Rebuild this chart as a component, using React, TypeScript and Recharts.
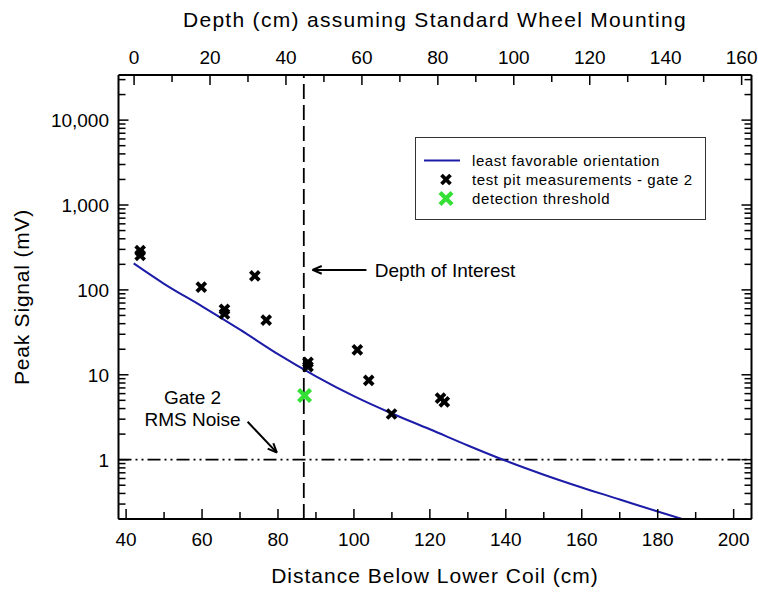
import React from "react";
import { ComposedChart, Line, Scatter, XAxis, YAxis, ReferenceLine, ReferenceDot, Legend } from "recharts";

const FONT = "'Liberation Sans', Arial, sans-serif";
const BLUE = "#1c1ca8", GREEN = "#35e035", INK = "#000";

// least favorable orientation (distance cm -> mV)
const curveDist = [42, 50, 60, 70, 80, 90, 100, 110, 120, 130, 140, 150, 160, 170, 180, 186.4];
const curveMv = [205, 118, 64, 34, 17.5, 9.6, 5.6, 3.5, 2.28, 1.47, 0.97, 0.665, 0.47, 0.34, 0.245, 0.2];

// test pit measurements - gate 2
const pitDist = [43.7, 43.7, 59.8, 65.9, 65.9, 73.9, 76.9, 87.9, 87.9, 100.9, 103.9, 109.9, 122.8, 123.8];
const pitMv = [290, 255, 108, 59, 52, 146, 44, 14, 12.5, 19.7, 8.6, 3.45, 5.3, 4.8];

// detection threshold
const thrDist = [87.0];
const thrMv = [5.7];

const bottomMajor = [40, 60, 80, 100, 120, 140, 160, 180, 200];
const bottomMinor = [50, 70, 90, 110, 130, 150, 170, 190];
const topMajor = [0, 20, 40, 60, 80, 100, 120, 140, 160];
const topMinor = [10, 30, 50, 70, 90, 110, 130, 150];
const yMajor = [1, 10, 100, 1000, 10000];
const yMinor = [
  0.2, 0.3, 0.4, 0.5, 0.6, 0.7, 0.8, 0.9,
  2, 3, 4, 5, 6, 7, 8, 9,
  20, 30, 40, 50, 60, 70, 80, 90,
  200, 300, 400, 500, 600, 700, 800, 900,
  2000, 3000, 4000, 5000, 6000, 7000, 8000, 9000,
  20000, 30000,
];

const DEPTH_OFFSET = 42.1; // depth = distance below coil - offset
const DEPTH_OF_INTEREST = 86.8;
const RMS_NOISE = 1;
const X_DOMAIN = [38, 204.7];
const Y_DOMAIN = [0.2, 34000];

const curve = curveDist.map((d, i) => ({ d, v: curveMv[i] }));
const pits = pitDist.map((d, i) => ({ d, v: pitMv[i] }));
const thr = thrDist.map((d, i) => ({ d, v: thrMv[i] }));
const topTicks = [...topMajor, ...topMinor].sort((a, b) => a - b).map((v) => v + DEPTH_OFFSET);

const fmt = (n: number) => n.toLocaleString("en-US");

function XMark({ cx, cy, size, color, w }: any) {
  const h = size / 2;
  return (
    <g stroke={color} strokeWidth={w}>
      <line x1={cx - h} y1={cy - h} x2={cx + h} y2={cy + h} />
      <line x1={cx - h} y1={cy + h} x2={cx + h} y2={cy - h} />
    </g>
  );
}

function BottomTick({ x, y, payload }: any) {
  const major = bottomMajor.includes(payload.value);
  return (
    <g>
      <line x1={x} x2={x} y1={y} y2={y - (major ? 10 : 7)} stroke={INK} strokeWidth={1.5} />
      {major && <text x={x} y={y + 27} textAnchor="middle" fontSize={19} fontFamily={FONT} fill={INK}>{payload.value}</text>}
    </g>
  );
}

function TopTick({ x, y, payload }: any) {
  const depth = Math.round(payload.value - DEPTH_OFFSET);
  const major = topMajor.includes(depth);
  return (
    <g>
      <line x1={x} x2={x} y1={y} y2={y + (major ? 10 : 7)} stroke={INK} strokeWidth={1.5} />
      {major && <text x={x} y={y - 11} textAnchor="middle" fontSize={19} fontFamily={FONT} fill={INK}>{depth}</text>}
    </g>
  );
}

function LeftTick({ x, y, payload }: any) {
  const major = yMajor.includes(payload.value);
  return (
    <g>
      <line x1={x} x2={x + (major ? 10 : 7)} y1={y} y2={y} stroke={INK} strokeWidth={1.5} />
      {major && <text x={x - 9.5} y={y + 7} textAnchor="end" fontSize={19} fontFamily={FONT} fill={INK}>{fmt(payload.value)}</text>}
    </g>
  );
}

function RightTick({ x, y, payload }: any) {
  const major = yMajor.includes(payload.value);
  return <line x1={x} x2={x - (major ? 10 : 7)} y1={y} y2={y} stroke={INK} strokeWidth={1.5} />;
}

function Arrow({ x1, y1, x2, y2 }: any) {
  const a = Math.atan2(y2 - y1, x2 - x1);
  const L = 10, s = 0.4;
  return (
    <g stroke={INK} strokeWidth={2} fill="none">
      <line x1={x1} y1={y1} x2={x2} y2={y2} />
      <line x1={x2} y1={y2} x2={x2 - L * Math.cos(a - s)} y2={y2 - L * Math.sin(a - s)} />
      <line x1={x2} y1={y2} x2={x2 - L * Math.cos(a + s)} y2={y2 - L * Math.sin(a + s)} />
    </g>
  );
}

const note = (txt: string, anchor: string) => (p: any) => (
  <text x={p.cx} y={p.cy} dy={7} textAnchor={anchor} fontSize={19} fontFamily={FONT} fill={INK}>{txt}</text>
);

const legendItems = [
  { label: "least favorable orientation", kind: "line" },
  { label: "test pit measurements - gate 2", kind: "x" },
  { label: "detection threshold", kind: "g" },
];

function LegendBox() {
  return (
    <div style={{ width: 291, height: 83, boxSizing: "border-box", border: "1.5px solid #333", background: "#fff", padding: "13px 0 0 6px", fontFamily: FONT, fontSize: 15, letterSpacing: 0.6 }}>
      {legendItems.map((it) => (
        <div key={it.label} style={{ display: "flex", alignItems: "center", height: 19 }}>
          <svg width={50} height={19}>
            {it.kind === "line" && <line x1={2} x2={38} y1={9.5} y2={9.5} stroke={BLUE} strokeWidth={2} />}
            {it.kind === "x" && <XMark cx={24} cy={9.5} size={9} color={INK} w={3.8} />}
            {it.kind === "g" && <XMark cx={24} cy={9.5} size={12} color={GREEN} w={4.2} />}
          </svg>
          <span>{it.label}</span>
        </div>
      ))}
    </div>
  );
}

export default function App() {
  return (
    <div style={{ width: 758, height: 592, background: "#fff" }}>
      <style>{"body{margin:0}"}</style>
      <ComposedChart width={758} height={592} margin={{ top: 30, right: 5.5, bottom: 28, left: 10 }}>
        <XAxis xAxisId="b" type="number" dataKey="d" domain={X_DOMAIN} allowDataOverflow
          ticks={[...bottomMajor, ...bottomMinor].sort((a, b) => a - b)} interval={0}
          tick={(p: any) => <BottomTick {...p} />} tickLine={false} tickSize={0} tickMargin={0}
          axisLine={{ stroke: INK, strokeWidth: 2 }} height={45}
          label={{ value: "Distance Below Lower Coil (cm)", position: "bottom", offset: 4, fontSize: 21, fontFamily: FONT, fill: INK, letterSpacing: 1 } as any} />
        <XAxis xAxisId="t" orientation="top" type="number" dataKey="d" domain={X_DOMAIN} allowDataOverflow
          ticks={topTicks} interval={0}
          tick={(p: any) => <TopTick {...p} />} tickLine={false} tickSize={0} tickMargin={0}
          axisLine={{ stroke: INK, strokeWidth: 2 }} height={45}
          label={{ value: "Depth (cm) assuming Standard Wheel Mounting", position: "top", offset: 3, fontSize: 21, fontFamily: FONT, fill: INK, letterSpacing: 1.3 } as any} />
        <YAxis yAxisId="l" type="number" scale="log" domain={Y_DOMAIN} allowDataOverflow
          ticks={[...yMajor, ...yMinor].sort((a, b) => a - b)} interval={0}
          tick={(p: any) => <LeftTick {...p} />} tickLine={false} tickSize={0} tickMargin={0}
          axisLine={{ stroke: INK, strokeWidth: 2 }} width={108.5}
          label={{ value: "Peak Signal (mV)", angle: -90, position: "insideLeft", offset: 12, fontSize: 21, fontFamily: FONT, fill: INK, letterSpacing: 0.8, style: { textAnchor: "middle" } } as any} />
        <YAxis yAxisId="r" orientation="right" type="number" scale="log" domain={Y_DOMAIN} allowDataOverflow
          ticks={[...yMajor, ...yMinor].sort((a, b) => a - b)} interval={0}
          tick={(p: any) => <RightTick {...p} />} tickLine={false} tickSize={0} tickMargin={0}
          axisLine={{ stroke: INK, strokeWidth: 2 }} width={1} />

        <ReferenceLine xAxisId="b" yAxisId="l" x={DEPTH_OF_INTEREST} stroke={INK} strokeWidth={1.8} strokeDasharray="15 6" />
        <ReferenceLine xAxisId="b" yAxisId="l" y={RMS_NOISE} stroke={INK} strokeWidth={1.6} strokeDasharray="13 4 2 4 2 4" />

        <Line xAxisId="b" yAxisId="l" data={curve} dataKey="v" type="monotone" stroke={BLUE} strokeWidth={2} dot={false} isAnimationActive={false} />
        <Scatter xAxisId="b" yAxisId="l" data={pits} dataKey="v" isAnimationActive={false}
          shape={(p: any) => <XMark cx={p.cx} cy={p.cy} size={9} color={INK} w={3.8} />} />
        <Scatter xAxisId="t" yAxisId="l" data={thr} dataKey="v" isAnimationActive={false}
          shape={(p: any) => <XMark cx={p.cx} cy={p.cy} size={12} color={GREEN} w={4.2} />} />

        <ReferenceLine xAxisId="b" yAxisId="l" segment={[{ x: 103.3, y: 172 }, { x: 89.1, y: 172 }]} shape={(p: any) => <Arrow {...p} />} />
        <ReferenceLine xAxisId="b" yAxisId="l" segment={[{ x: 72.0, y: 2.8 }, { x: 79.7, y: 1.21 }]} shape={(p: any) => <Arrow {...p} />} />
        <ReferenceDot xAxisId="b" yAxisId="l" x={105.5} y={172} r={0} shape={note("Depth of Interest", "start")} />
        <ReferenceDot xAxisId="b" yAxisId="l" x={57.5} y={5.5} r={0} shape={note("Gate 2", "middle")} />
        <ReferenceDot xAxisId="b" yAxisId="l" x={57.5} y={3.04} r={0} shape={note("RMS Noise", "middle")} />

        <Legend layout="horizontal" verticalAlign="middle" align="center"
          wrapperStyle={{ left: 415, top: 137, width: 291, height: 83 }} content={() => <LegendBox />} />
      </ComposedChart>
    </div>
  );
}
